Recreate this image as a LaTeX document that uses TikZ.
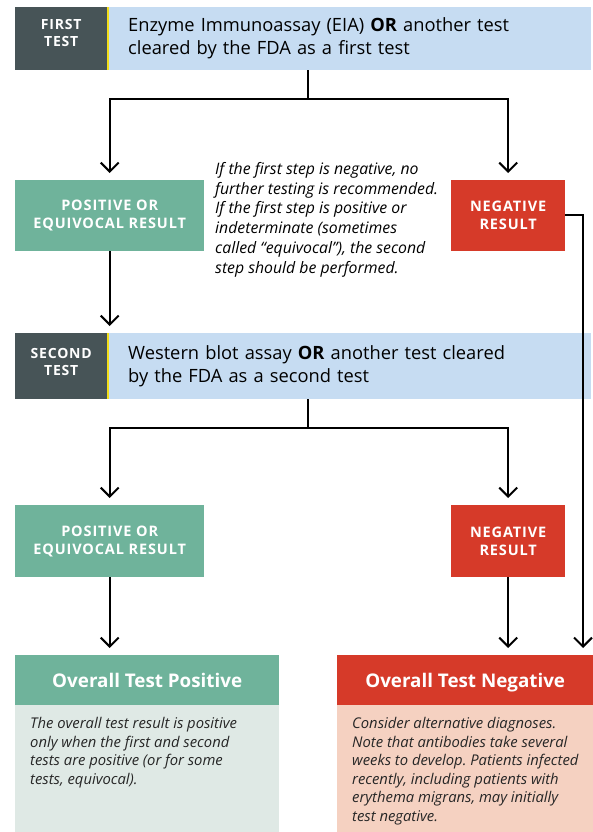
\documentclass[tikz,border=0pt]{standalone}
\usepackage{fontspec}
\setmainfont{Open Sans}
\newfontfamily\capsfont[LetterSpace=6]{Open Sans}
\usepackage{tikz}
\usetikzlibrary{positioning, arrows.meta, backgrounds}
\definecolor{cSlate}{HTML}{475457}
\definecolor{cSky}{HTML}{C6DCF2}
\definecolor{cLime}{HTML}{F2DE1B}
\definecolor{cTeal}{HTML}{6FB39B}
\definecolor{cTealLt}{HTML}{DFE9E5}
\definecolor{cRed}{HTML}{D63A29}
\definecolor{cRedLt}{HTML}{F5D1C1}
\tikzset{
  stagebox/.style={
    rectangle, fill=cSlate, anchor=north west, inner sep=0pt,
    minimum width=92pt, minimum height=63pt
  },
  stagelbl/.style={
    text=white, align=center, inner sep=0pt,
    font=\capsfont\bfseries\fontsize{14}{17}\selectfont
  },
  testbox/.style={
    rectangle, fill=cSky, text=black, anchor=north west, inner xsep=19pt,
    minimum width=482pt, minimum height=63pt, text width=444pt, align=left,
    font=\fontsize{18.3}{23}\selectfont
  },
  resultbox/.style={
    rectangle, fill=#1, text=white, anchor=north west, inner sep=0pt,
    minimum height=71pt, align=center,
    font=\capsfont\bfseries\fontsize{14.5}{18}\selectfont
  },
  headbox/.style={
    rectangle, fill=#1, text=white, anchor=north west, inner sep=0pt,
    minimum height=50pt, text height=19pt, text depth=4pt,
    font=\bfseries\fontsize{18.8}{21}\selectfont
  },
  bodytext/.style={
    anchor=north west, inner xsep=15pt, inner ysep=12pt, text=black!85,
    align=left, font=\itshape\fontsize{14.8}{18.5}\selectfont
  },
  note/.style={
    anchor=north west, inner sep=0pt, align=left,
    font=\itshape\fontsize{15.8}{19.8}\selectfont
  },
  link/.style={line width=2pt},
  flow/.style={-{Straight Barb[length=9pt,width=18pt]}, line width=2pt, shorten >=7pt},
}
\frenchspacing
\begin{document}
\begin{tikzpicture}[x=1pt, y=-1pt]
  \useasboundingbox (0,0) rectangle (593,832);

  % first test
  \node[stagebox, label={[stagelbl, yshift=6pt]center:{FIRST\\TEST}}] (first) at (15,7) {};
  \node[testbox] (eia) at (109,7)
    {Enzyme Immunoassay (EIA) \textbf{OR} another test\\cleared by the FDA as a first test};
  \fill[cLime] (first.north east) rectangle ([xshift=2pt]first.south east);

  \node[resultbox=cTeal, minimum width=189pt] (pos1) at (15,180)
    {POSITIVE OR\\EQUIVOCAL RESULT};
  \node[resultbox=cRed, minimum width=114pt] (neg1) at (451,180)
    {NEGATIVE\\RESULT};
  \node[note] (hint) at (215,162)
    {If the first step is negative, no\\further testing is recommended.\\
     If the first step is positive or\\indeterminate (sometimes\\
     called “equivocal”), the second\\step should be performed.};

  % second test
  \node[stagebox, minimum height=66pt,
        label={[stagelbl, yshift=4pt]center:{SECOND\\TEST}}] (second) at (15,333) {};
  \node[testbox, minimum height=66pt] (blot) at (109,333)
    {Western blot assay \textbf{OR} another test cleared\\by the FDA as a second test};
  \fill[cLime] (second.north east) rectangle ([xshift=2pt]second.south east);

  \node[resultbox=cTeal, minimum width=189pt, minimum height=72pt] (pos2) at (15,505)
    {POSITIVE OR\\EQUIVOCAL RESULT};
  \node[resultbox=cRed, minimum width=114pt, minimum height=72pt] (neg2) at (451,505)
    {NEGATIVE\\RESULT};

  % outcomes
  \node[headbox=cTeal, minimum width=264pt] (posall) at (15,655) {Overall Test Positive};
  \node[bodytext] (posnote) at (posall.south west)
    {The overall test result is positive\\only when the first and second\\
     tests are positive (or for some\\tests, equivocal).};
  \node[headbox=cRed, minimum width=256pt] (negall) at (337,655) {Overall Test Negative};
  \node[bodytext] (negnote) at (negall.south west)
    {Consider alternative diagnoses.\\Note that antibodies take several\\
     weeks to develop. Patients infected\\recently, including patients with\\
     erythema migrans, may initially\\test negative.};

  \begin{scope}[on background layer]
    \fill[cTealLt] (posall.south west) rectangle (posall.east |- 0,832);
    \fill[cRedLt] (negall.south west) rectangle (negall.east |- 0,832);
  \end{scope}

  \coordinate (fork1) at (308,99);
  \coordinate (fork2) at (308,428);
  \coordinate (rail) at (583,215);

  \draw[link] (eia.south -| fork1) -- (fork1);
  \draw[flow] (fork1) -| (pos1.north);
  \draw[flow] (fork1) -| (neg1.north);
  \draw[flow] (pos1) -- (pos1 |- second.north);
  \draw[flow] (neg1.east |- rail) -- (rail) -- (rail |- negall.north);

  \draw[link] (blot.south -| fork2) -- (fork2);
  \draw[flow] (fork2) -| (pos2.north);
  \draw[flow] (fork2) -| (neg2.north);
  \draw[flow] (pos2) -- (pos2 |- posall.north);
  \draw[flow] (neg2) -- (neg2 |- negall.north);

\end{tikzpicture}
\end{document}
